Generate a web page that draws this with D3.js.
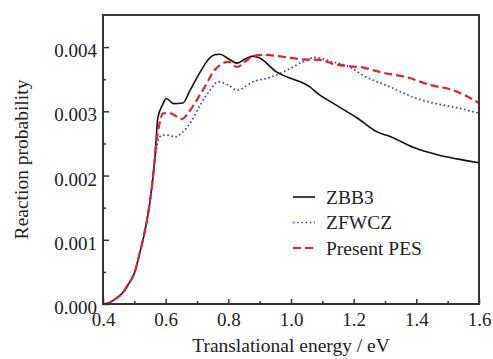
<html>
<script src='https://d3js.org/d3.v7.min.js'></script>
<style>
body {margin:0; background:white;}
svg text {font-family:"Liberation Serif","DejaVu Serif",serif !important; fill:#222;}
</style>
<body>
<svg width=493 height=359></svg>
<script>
// shared rise (all three curves coincide here)
var riseE = [0.40,0.42,0.44,0.46,0.48,0.50,0.52,0.53,0.54,0.55,0.56];
var riseP = [0.0,0.00002,0.00008,0.00016,0.0003,0.00048,0.00085,0.00105,0.0013,0.0016,0.0020];

var zbb3E = [0.566,0.575,0.59,0.602,0.625,0.655,0.678,0.71,0.735,0.757,0.773,0.80,0.828,0.855,0.879,0.90,0.955,1.0,1.03,1.06,1.09,1.13,1.19,1.21,1.275,1.32,1.39,1.47,1.53,1.60];
var zbb3P = [0.0023,0.0029,0.0031,0.0032,0.00312,0.00313,0.00333,0.00361,0.0038,0.00388,0.00389,0.00382,0.00375,0.00382,0.00386,0.00383,0.00361,0.00351,0.00346,0.00338,0.00326,0.00314,0.00296,0.0029,0.00268,0.0026,0.00244,0.00232,0.00226,0.0022];

var zfwczE = [0.57,0.58,0.592,0.607,0.63,0.655,0.684,0.71,0.742,0.767,0.80,0.828,0.879,0.933,0.987,1.038,1.077,1.125,1.188,1.23,1.316,1.39,1.453,1.517,1.60];
var zfwczP = [0.0024,0.0026,0.00263,0.00263,0.0026,0.00268,0.00286,0.0031,0.00333,0.00346,0.00341,0.00333,0.00346,0.00353,0.00364,0.00377,0.00384,0.00378,0.00369,0.00356,0.00338,0.00322,0.00313,0.00307,0.00297];

var pesE = [0.57,0.58,0.592,0.614,0.652,0.671,0.70,0.732,0.751,0.773,0.80,0.828,0.855,0.879,0.911,0.974,1.038,1.093,1.134,1.188,1.22,1.294,1.37,1.444,1.517,1.60];
var pesP = [0.0025,0.0028,0.00297,0.00297,0.00288,0.00297,0.00318,0.00344,0.00361,0.00372,0.00377,0.00369,0.00378,0.00386,0.00388,0.00385,0.00381,0.0038,0.00374,0.0037,0.00369,0.0036,0.00353,0.00341,0.00333,0.00313];

var xTicks = [0.4,0.6,0.8,1.0,1.2,1.4,1.6];
var yTicks = [0.000,0.001,0.002,0.003,0.004];
var names = ['ZBB3','ZFWCZ','Present PES'];

var mL = 103, mR = 479, mT = 15, mB = 304;

var x = d3.scaleLinear().domain([0.4,1.6]).range([mL,mR]);
var y = d3.scaleLinear().domain([0,0.0045]).range([mB,mT]);

var svg = d3.select('svg');

function pts(e, p) {
  var a = riseE.map(function(d,i){ return [d, riseP[i]]; });
  return a.concat(e.map(function(d,i){ return [d, p[i]]; }));
}

var series = [
  {name:names[0], data:pts(zbb3E,zbb3P), color:'#111', dash:null, w:1.6},
  {name:names[1], data:pts(zfwczE,zfwczP), color:'#3b3bd6', dash:'1.6,2.6', w:1.7},
  {name:names[2], data:pts(pesE,pesP), color:'#e8202a', dash:'8,4', w:2.2}
];

var line = d3.line()
  .x(function(d){ return x(d[0]); })
  .y(function(d){ return y(d[1]); })
  .curve(d3.curveMonotoneX);

svg.append('g').selectAll('path')
  .data(series)
  .enter().append('path')
  .attr('d', function(d){ return line(d.data); })
  .attr('fill','none')
  .attr('stroke', function(d){ return d.color; })
  .attr('stroke-width', function(d){ return d.w; })
  .attr('stroke-dasharray', function(d){ return d.dash; });

// frame
svg.append('rect')
  .attr('x',mL).attr('y',mT)
  .attr('width',mR-mL).attr('height',mB-mT)
  .attr('fill','none').attr('stroke','#333').attr('stroke-width',2);

// x axis
var xAxis = d3.axisBottom(x).tickValues(xTicks).tickFormat(d3.format('.1f')).tickSize(-5).tickPadding(9);
var gx = svg.append('g').attr('transform','translate(0,'+mB+')').call(xAxis);
gx.select('.domain').remove();
gx.selectAll('line').attr('stroke','#333').attr('stroke-width',1.5);
gx.selectAll('text').attr('font-size',19);
var gxm = svg.append('g').attr('transform','translate(0,'+mB+')')
  .call(d3.axisBottom(x).tickValues(d3.range(0.5,1.6,0.2)).tickFormat('').tickSize(-3));
gxm.select('.domain').remove();
gxm.selectAll('line').attr('stroke','#333').attr('stroke-width',1.5);

// y axis
var yAxis = d3.axisLeft(y).tickValues(yTicks).tickFormat(d3.format('.3f')).tickSize(-6).tickPadding(6);
var gy = svg.append('g').attr('transform','translate('+mL+',0)').call(yAxis);
gy.select('.domain').remove();
gy.selectAll('line').attr('stroke','#333').attr('stroke-width',1.5);
gy.selectAll('text').attr('font-size',19).attr('dy','0.5em');
var gym = svg.append('g').attr('transform','translate('+mL+',0)')
  .call(d3.axisLeft(y).tickValues([0.0005,0.0015,0.0025,0.0035]).tickFormat('').tickSize(-3));
gym.select('.domain').remove();
gym.selectAll('line').attr('stroke','#333').attr('stroke-width',1.5);

// axis titles
svg.append('text').attr('x',(mL+mR)/2).attr('y',352)
  .attr('text-anchor','middle').attr('font-size',19.5)
  .text('Translational energy / eV');
svg.append('text').attr('transform','translate(28,'+(mT+mB)/2+') rotate(-90)')
  .attr('text-anchor','middle').attr('font-size',19.5)
  .text('Reaction probability');

// legend
var lg = svg.append('g').attr('transform','translate(293,197)');
series.forEach(function(s,i){
  lg.append('line').attr('x1',0).attr('x2',22).attr('y1',i*25.5).attr('y2',i*25.5)
    .attr('stroke',s.color).attr('stroke-width',s.w).attr('stroke-dasharray',s.dash);
  lg.append('text').attr('x',33).attr('y',i*25.5).attr('dy','0.35em')
    .attr('font-size',19.5).text(s.name);
});
</script>
</body>
</html>
